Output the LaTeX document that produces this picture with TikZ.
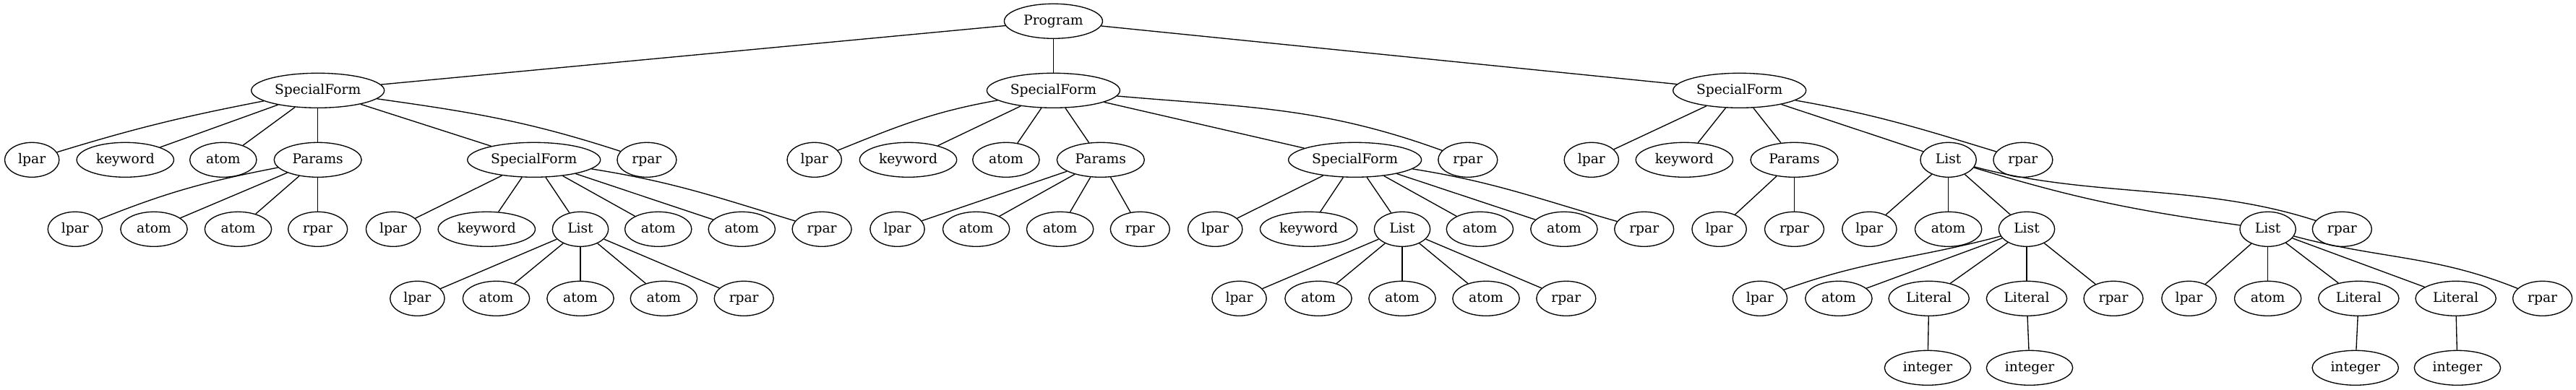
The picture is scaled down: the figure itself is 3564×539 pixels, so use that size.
\documentclass[tikz,border=0pt]{standalone}
\usepackage{fontspec}
\setmainfont{DejaVu Serif}
\usetikzlibrary{shapes.geometric}
\begin{document}
\begin{tikzpicture}[x=0.75pt,y=0.75pt,
  nd/.style={draw, ellipse, line width=1pt, inner sep=0pt, minimum height=36pt,
    text height=10.5pt, text depth=3pt, font=\fontsize{14pt}{16pt}\selectfont},
  nProg/.style={nd, minimum width=102pt},
  nSF/.style={nd, minimum width=138pt},
  nLpar/.style={nd, minimum width=56.5pt},
  nRpar/.style={nd, minimum width=61.5pt},
  nKw/.style={nd, minimum width=100.75pt},
  nAtom/.style={nd, minimum width=69.25pt},
  nParams/.style={nd, minimum width=90.75pt},
  nList/.style={nd, minimum width=58pt},
  nLit/.style={nd, minimum width=83.5pt},
  nInt/.style={nd, minimum width=89.5pt},
  link/.style={line width=1pt}]
\useasboundingbox (0,0) rectangle (3564,539);
% level 0
\node[nProg] (P) at (1457.4,509.7) {Program};
% level 1
\node[nSF] (A) at (439.7,413.7) {SpecialForm};
\node[nSF] (B) at (1457.4,413.7) {SpecialForm};
\node[nSF] (C) at (2406.7,413.7) {SpecialForm};
% level 2
\node[nLpar] (a1) at (44.2,317.7) {lpar};
\node[nKw] (a2) at (173.3,317.7) {keyword};
\node[nAtom] (a3) at (308.8,317.7) {atom};
\node[nParams] (a4) at (439.7,317.7) {Params};
\node[nSF] (a5) at (738.7,317.7) {SpecialForm};
\node[nRpar] (a6) at (894.9,317.7) {rpar};
\node[nLpar] (b1) at (1126.7,317.7) {lpar};
\node[nKw] (b2) at (1256.5,317.7) {keyword};
\node[nAtom] (b3) at (1391.9,317.7) {atom};
\node[nParams] (b4) at (1522.8,317.7) {Params};
\node[nSF] (b5) at (1874.6,317.7) {SpecialForm};
\node[nRpar] (b6) at (2030.8,317.7) {rpar};
\node[nLpar] (c1) at (2201.8,317.7) {lpar};
\node[nKw] (c2) at (2330.4,317.7) {keyword};
\node[nParams] (c3) at (2482.5,317.7) {Params};
\node[nList] (c4) at (2695.6,317.7) {List};
\node[nRpar] (c5) at (2798.9,317.7) {rpar};
% level 3
\node[nLpar] (a41) at (103.9,221.7) {lpar};
\node[nAtom] (a42) at (213,221.7) {atom};
\node[nAtom] (a43) at (329.5,221.7) {atom};
\node[nRpar] (a44) at (439.7,221.7) {rpar};
\node[nLpar] (a51) at (544.1,221.7) {lpar};
\node[nKw] (a52) at (673.3,221.7) {keyword};
\node[nList] (a53) at (803,221.7) {List};
\node[nAtom] (a54) at (910.7,221.7) {atom};
\node[nAtom] (a55) at (1026.3,221.7) {atom};
\node[nRpar] (a56) at (1137.1,221.7) {rpar};
\node[nLpar] (b41) at (1241.5,221.7) {lpar};
\node[nAtom] (b42) at (1350.6,221.7) {atom};
\node[nAtom] (b43) at (1466.6,221.7) {atom};
\node[nRpar] (b44) at (1577.3,221.7) {rpar};
\node[nLpar] (b51) at (1681.2,221.7) {lpar};
\node[nKw] (b52) at (1810.6,221.7) {keyword};
\node[nList] (b53) at (1940,221.7) {List};
\node[nAtom] (b54) at (2047.4,221.7) {atom};
\node[nAtom] (b55) at (2163.9,221.7) {atom};
\node[nRpar] (b56) at (2274.7,221.7) {rpar};
\node[nLpar] (c31) at (2378.6,221.7) {lpar};
\node[nRpar] (c32) at (2482.5,221.7) {rpar};
\node[nLpar] (c41) at (2586.4,221.7) {lpar};
\node[nAtom] (c42) at (2695.6,221.7) {atom};
\node[nList] (c43) at (2804,221.7) {List};
\node[nList] (c44) at (3137.6,221.7) {List};
\node[nRpar] (c45) at (3240.3,221.7) {rpar};
% level 4
\node[nLpar] (a531) at (577.4,125.7) {lpar};
\node[nAtom] (a532) at (686.5,125.7) {atom};
\node[nAtom] (a533) at (803,125.7) {atom};
\node[nAtom] (a534) at (918.4,125.7) {atom};
\node[nRpar] (a535) at (1029.2,125.7) {rpar};
\node[nLpar] (b531) at (1714.5,125.7) {lpar};
\node[nAtom] (b532) at (1824,125.7) {atom};
\node[nAtom] (b533) at (1940,125.7) {atom};
\node[nAtom] (b534) at (2056,125.7) {atom};
\node[nRpar] (b535) at (2166.8,125.7) {rpar};
\node[nLpar] (c431) at (2434.9,125.7) {lpar};
\node[nAtom] (c432) at (2543.9,125.7) {atom};
\node[nLit] (c433) at (2668.7,125.7) {Literal};
\node[nLit] (c434) at (2804,125.7) {Literal};
\node[nRpar] (c435) at (2924,125.7) {rpar};
\node[nLpar] (c441) at (3028.5,125.7) {lpar};
\node[nAtom] (c442) at (3137.6,125.7) {atom};
\node[nLit] (c443) at (3263.3,125.7) {Literal};
\node[nLit] (c444) at (3397.6,125.7) {Literal};
\node[nRpar] (c445) at (3517.6,125.7) {rpar};
% level 5
\node[nInt] (c4331) at (2667,29.7) {integer};
\node[nInt] (c4341) at (2808,29.7) {integer};
\node[nInt] (c4431) at (3258.7,29.7) {integer};
\node[nInt] (c4441) at (3399.9,29.7) {integer};
% edges
\draw[link] (P) -- (A);
\draw[link] (P) -- (B);
\draw[link] (P) -- (C);
\draw[link] (A) to[out=191,in=17] (a1);
\draw[link] (A) -- (a2);
\draw[link] (A) -- (a3);
\draw[link] (A) -- (a4);
\draw[link] (A) -- (a5);
\draw[link] (A) to[out=-8,in=162] (a6);
\draw[link] (a4) to[out=191,in=22] (a41);
\draw[link] (a4) -- (a42);
\draw[link] (a4) -- (a43);
\draw[link] (a4) -- (a44);
\draw[link] (a5) -- (a51);
\draw[link] (a5) -- (a52);
\draw[link] (a5) -- (a53);
\draw[link] (a5) -- (a54);
\draw[link] (a5) -- (a55);
\draw[link] (a5) to[out=-9,in=163] (a56);
\draw[link] (a53) -- (a531);
\draw[link] (a53) -- (a532);
\draw[link] (a53) -- (a533);
\draw[link] (a53) -- (a534);
\draw[link] (a53) -- (a535);
\draw[link] (B) to[out=190,in=22] (b1);
\draw[link] (B) -- (b2);
\draw[link] (B) -- (b3);
\draw[link] (B) -- (b4);
\draw[link] (B) -- (b5);
\draw[link] (B) to[out=-5,in=160] (b6);
\draw[link] (b4) -- (b41);
\draw[link] (b4) -- (b42);
\draw[link] (b4) -- (b43);
\draw[link] (b4) -- (b44);
\draw[link] (b5) -- (b51);
\draw[link] (b5) -- (b52);
\draw[link] (b5) -- (b53);
\draw[link] (b5) -- (b54);
\draw[link] (b5) -- (b55);
\draw[link] (b5) to[out=-9,in=164] (b56);
\draw[link] (b53) -- (b531);
\draw[link] (b53) -- (b532);
\draw[link] (b53) -- (b533);
\draw[link] (b53) -- (b534);
\draw[link] (b53) -- (b535);
\draw[link] (C) -- (c1);
\draw[link] (C) -- (c2);
\draw[link] (C) -- (c3);
\draw[link] (C) -- (c4);
\draw[link] (C) to[out=-10,in=163] (c5);
\draw[link] (c3) -- (c31);
\draw[link] (c3) -- (c32);
\draw[link] (c4) -- (c41);
\draw[link] (c4) -- (c42);
\draw[link] (c4) -- (c43);
\draw[link] (c4) to[out=-17,in=172] (c44);
\draw[link] (c4) to[out=-15,in=162,looseness=0.9] (c45);
\draw[link] (c43) to[out=195,in=20] (c431);
\draw[link] (c43) -- (c432);
\draw[link] (c43) -- (c433);
\draw[link] (c43) -- (c434);
\draw[link] (c43) -- (c435);
\draw[link] (c44) -- (c441);
\draw[link] (c44) -- (c442);
\draw[link] (c44) -- (c443);
\draw[link] (c44) -- (c444);
\draw[link] (c44) to[out=-15,in=158] (c445);
\draw[link] (c433) -- (c4331);
\draw[link] (c434) -- (c4341);
\draw[link] (c443) -- (c4431);
\draw[link] (c444) -- (c4441);
\end{tikzpicture}
\end{document}
